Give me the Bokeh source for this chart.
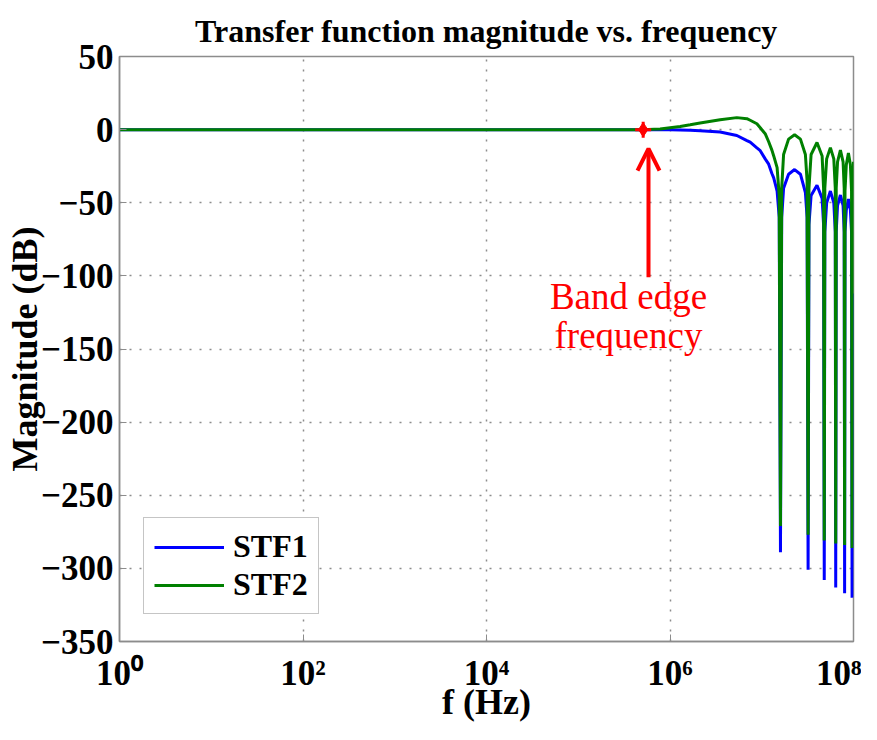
from bokeh.plotting import figure
from bokeh.models import (FixedTicker, CustomJSTickFormatter, Legend, LegendItem,
                          Arrow, OpenHead, Range1d)
from bokeh.core.properties import value
from bokeh.embed import file_html
from bokeh.resources import INLINE

# ---- data ----
freq_hz = [1, 1e3, 1e5, 5e5, 7.8e5, 1.29e6, 1.66e6, 2.13e6, 3.52e6, 5.35e6, 6.89e6,
           7.48e6, 8.85e6, 9.63e6, 1.09e7, 1.19e7, 1.29e7, 1.35e7, 1.47e7, 1.55e7, 1.6e7,
           1.65e7, 1.73e7, 1.96e7, 2.28e7, 2.64e7, 2.99e7, 3.12e7, 3.2e7,
           3.27e7, 3.45e7, 4.0e7, 4.55e7, 4.72e7, 4.8e7,
           4.87e7, 5.1e7, 5.6e7, 6.1e7, 6.33e7, 6.4e7,
           6.48e7, 6.7e7, 7.2e7, 7.7e7, 7.92e7, 8.0e7,
           8.08e7, 8.35e7, 8.8e7, 9.25e7, 9.52e7, 9.65e7,
           1e8]

stf1_db = [0, 0, 0, 0, 0, -0.2, -0.5, -0.8, -1.6, -4, -7.5,
           -8.6, -12.5, -14.4, -20, -23.6, -30, -33, -42, -60, -289,
           -60, -40, -30.5, -27.3, -30.5, -43, -60, -301,
           -65, -45, -38, -47, -65, -308,
           -70, -50, -42, -50, -70, -313,
           -70, -52, -44.7, -52, -70, -317,
           -70, -55, -47.4, -55, -70, -320,
           -112]

stf2_db = [0, 0, 0, 0, 0.5, 2.2, 3.3, 4.5, 6.8, 8.2, 7.5,
           6.4, 4, 1.3, -2.8, -8.3, -14, -18, -26, -45, -271,
           -40, -17, -6.5, -3.5, -6.5, -17, -35, -277,
           -40, -17, -8.8, -18, -40, -281,
           -40, -20, -12.3, -20, -40, -283,
           -40, -22, -14, -22, -40, -284,
           -42, -24, -16, -24, -42, -286,
           -22]

x_ticks = [1, 1e2, 1e4, 1e6, 1e8]
y_ticks = [-350, -300, -250, -200, -150, -100, -50, 0, 50]

band_edge_hz = 5.1e5
band_edge_db = 0
arrow_hz = 5.83e5
label_hz = 3.53e5

FONT = "Liberation Serif"

p = figure(width=861, height=724, x_axis_type="log",
           x_range=Range1d(1, 1e8), y_range=Range1d(-350, 50),
           output_backend="svg", toolbar_location=None,
           min_border_left=119, min_border_right=8,
           min_border_top=56, min_border_bottom=79)

p.title.text = "Transfer function magnitude vs. frequency"
p.title.align = "center"
p.title.text_font = FONT
p.title.text_font_size = "32px"
p.title.text_font_style = "bold"
p.title.text_color = "black"
p.title.standoff = 16

p.background_fill_color = "white"
p.border_fill_color = "white"
p.outline_line_color = "#8c8c8c"
p.outline_line_width = 1.5

# axes
for ax in (p.xaxis[0], p.yaxis[0]):
    ax.major_label_text_font = FONT
    ax.major_label_text_font_size = "35px"
    ax.major_label_text_font_style = "bold"
    ax.major_label_text_color = "black"
    ax.axis_label_text_font = FONT
    ax.axis_label_text_font_size = "36px"
    ax.axis_label_text_font_style = "bold"
    ax.axis_label_text_color = "black"
    ax.axis_line_color = "#8c8c8c"
    ax.axis_line_width = 1.5
    ax.major_tick_in = 7
    ax.major_tick_out = 0
    ax.major_tick_line_color = "#8c8c8c"
    ax.minor_tick_line_color = None

p.xaxis.ticker = FixedTicker(ticks=x_ticks)
p.yaxis.ticker = FixedTicker(ticks=y_ticks)
p.xaxis.formatter = CustomJSTickFormatter(code="""
const sup = {'0':'\\u2070','1':'\\u00b9','2':'\\u00b2','3':'\\u00b3','4':'\\u2074',
             '5':'\\u2075','6':'\\u2076','7':'\\u2077','8':'\\u2078','9':'\\u2079','-':'\\u207b'};
const e = Math.round(Math.log10(tick));
return '10' + String(e).split('').map(c => sup[c]).join('');
""")
p.yaxis.formatter = CustomJSTickFormatter(code="""
return tick < 0 ? '\\u2212' + Math.abs(tick) : String(tick);
""")
p.xaxis.axis_label = "f (Hz)"
p.yaxis.axis_label = "Magnitude (dB)"
p.xaxis.major_label_standoff = 12
p.yaxis.major_label_standoff = 6
p.xaxis.axis_label_standoff = -14
p.yaxis.axis_label_standoff = -7

# grid
p.grid.grid_line_color = "#8c8c8c"
p.grid.grid_line_dash = "2 8"
p.grid.grid_line_width = 1.5
p.xgrid.ticker = FixedTicker(ticks=x_ticks)
p.ygrid.ticker = FixedTicker(ticks=y_ticks)

# curves
r1 = p.line(freq_hz, stf1_db, line_color="#0000ff", line_width=3)
r2 = p.line(freq_hz, stf2_db, line_color="#008000", line_width=3)

# band edge marker and annotation
p.scatter([band_edge_hz], [band_edge_db], marker="diamond", size=14, color="red")
p.scatter([band_edge_hz], [band_edge_db], marker="cross", size=16, line_color="red", line_width=3)
p.add_layout(Arrow(end=OpenHead(size=22, line_width=4, line_color="red"),
                   x_start=arrow_hz, y_start=-101, x_end=arrow_hz, y_end=-13,
                   line_width=4, line_color="red"))
p.text(x=[label_hz, label_hz], y=[-114, -141], text=["Band edge", "frequency"],
       text_font=value(FONT), text_font_size="37px", text_color="red",
       text_align="center", text_baseline="alphabetic")

legend = Legend(items=[LegendItem(label="STF1", renderers=[r1]),
                       LegendItem(label="STF2", renderers=[r2])],
                location=(24, 27))
legend.label_text_font = FONT
legend.label_text_font_size = "32px"
legend.label_text_font_style = "bold"
legend.label_text_color = "black"
legend.glyph_width = 70
legend.glyph_height = 20
legend.label_standoff = 9
legend.padding = 10
legend.spacing = 1
legend.border_line_color = "#8c8c8c"
legend.border_line_width = 1.5
legend.background_fill_color = "white"
legend.background_fill_alpha = 1.0
p.add_layout(legend)

open("out.html", "w").write(file_html(p, INLINE))
